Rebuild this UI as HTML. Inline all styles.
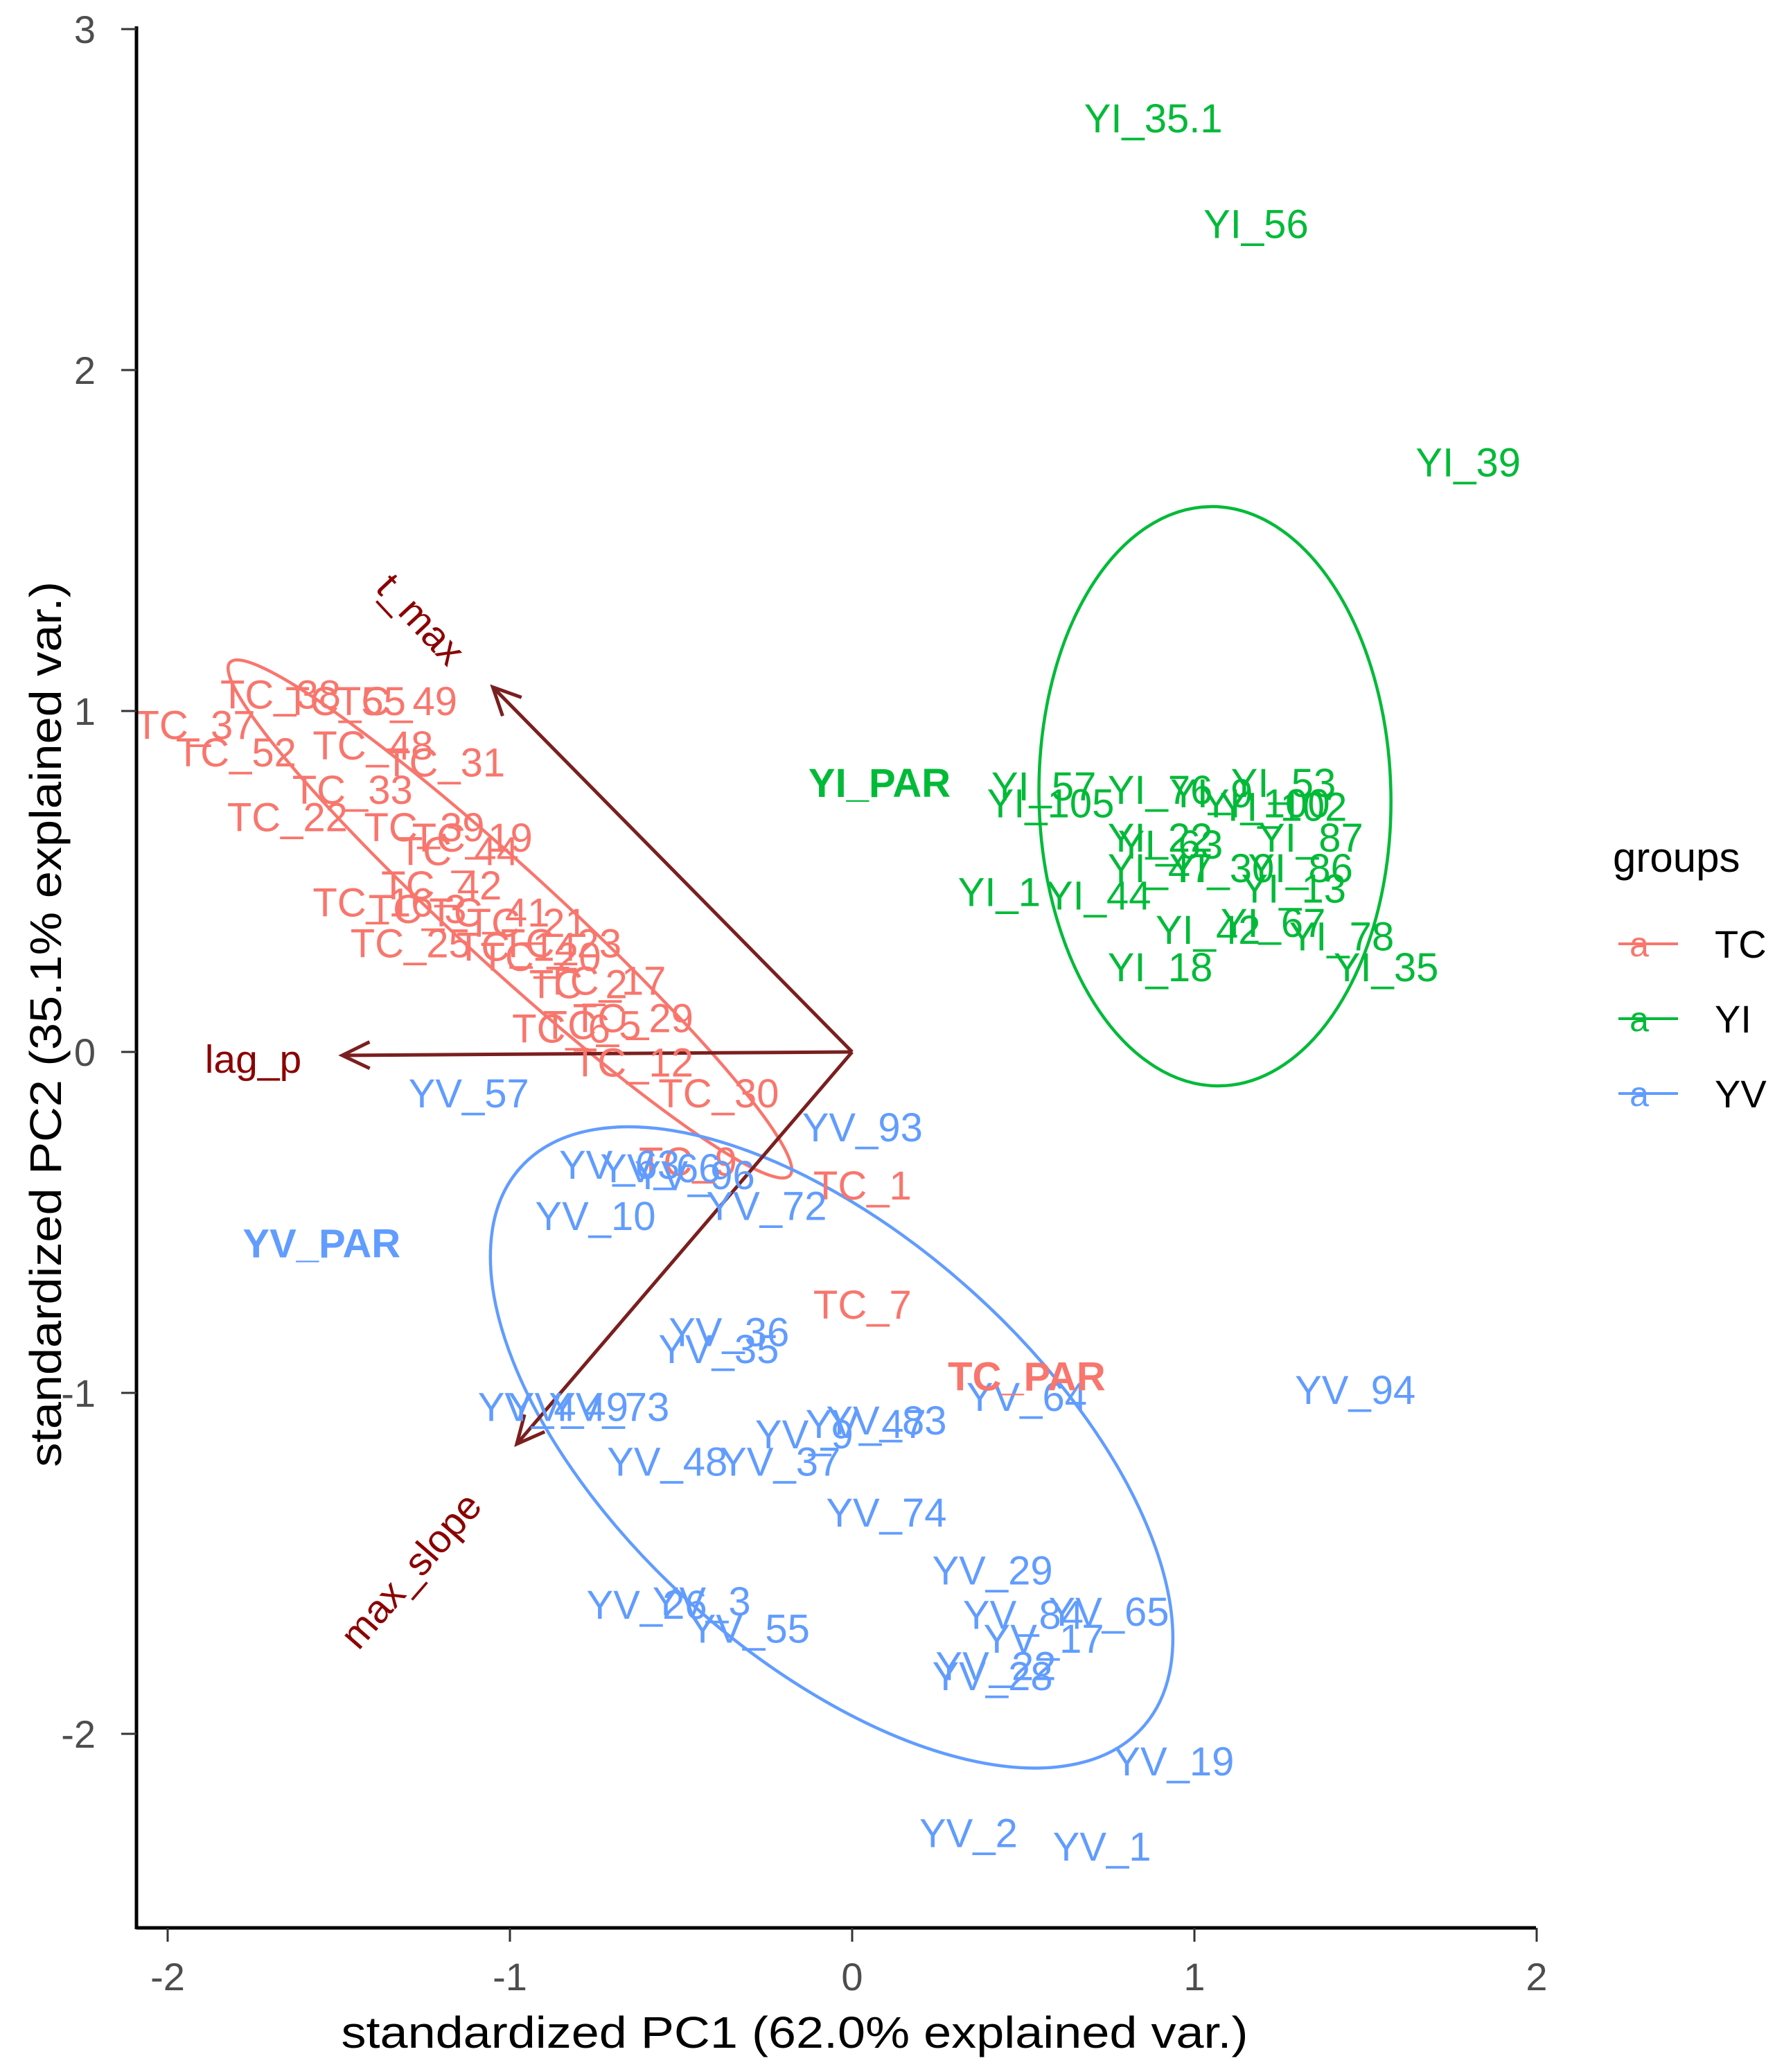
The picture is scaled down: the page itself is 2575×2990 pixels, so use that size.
<!DOCTYPE html>
<html><head><meta charset="utf-8"><style>
html,body{margin:0;padding:0;background:#fff;}
svg{display:block;font-family:"Liberation Sans",Arial,sans-serif;}
</style></head><body>
<svg id="chart" width="2575" height="2990" viewBox="0 0 2575 2990" xmlns="http://www.w3.org/2000/svg">
<g id="ellipses"></g>
<g id="arrows"></g>
<g id="labels"></g>
<g id="axes"></g>
<g id="legend"></g>
</svg>
<script>
const xTicks = [-2, -1, 0, 1, 2];
const yTicks = [-2, -1, 0, 1, 2, 3];
const groupNames = ["TC", "YI", "YV"];
const groupColors = {TC: "#F8766D", YI: "#00BA38", YV: "#619CFF"};

const tcNames = ["TC_37","TC_38","TC_55","TC_49","TC_52","TC_48","TC_31","TC_33","TC_22","TC_39","TC_19","TC_44","TC_42","TC_16","TC_3","TC_41","TC_21","TC_25","TC_14","TC_23","TC_20","TC_17","TC_2","TC_29","TC_6","TC_5","TC_12","TC_30","TC_9","TC_1","TC_7"];
const tcX = [-1.92,-1.67,-1.48,-1.33,-1.80,-1.40,-1.19,-1.46,-1.65,-1.25,-1.11,-1.15,-1.20,-1.40,-1.27,-1.06,-0.95,-1.29,-0.98,-0.85,-0.91,-0.72,-0.80,-0.64,-0.85,-0.76,-0.64,-0.39,-0.48,0.03,0.03];
const tcY = [0.96,1.05,1.03,1.03,0.88,0.90,0.85,0.77,0.69,0.66,0.63,0.59,0.49,0.44,0.42,0.41,0.38,0.32,0.31,0.32,0.28,0.21,0.20,0.10,0.07,0.08,-0.03,-0.12,-0.32,-0.39,-0.74];

const yiNames = ["YI_35.1","YI_56","YI_39","YI_53","YI_57","YI_105","YI_76","YI_9","YI_100","YI_102","YI_87","YI_22","YI_63","YI_47","YI_30","YI_86","YI_13","YI_1","YI_44","YI_42","YI_67","YI_78","YI_18","YI_35"];
const yiX = [0.88,1.18,1.80,1.26,0.56,0.58,0.90,1.05,1.21,1.26,1.34,0.90,0.93,0.90,1.08,1.31,1.29,0.43,0.72,1.04,1.23,1.43,0.90,1.56];
const yiY = [2.74,2.43,1.73,0.79,0.78,0.73,0.77,0.76,0.73,0.72,0.63,0.63,0.61,0.54,0.54,0.54,0.48,0.47,0.46,0.36,0.38,0.34,0.25,0.25];

const yvNames = ["YV_57","YV_93","YV_63","YV_66","YV_96","YV_72","YV_10","YV_36","YV_35","YV_4","YV_49","YV_73","YV_47","YV_83","YV_9","YV_64","YV_94","YV_48","YV_37","YV_74","YV_29","YV_65","YV_84","YV_17","YV_22","YV_28","YV_26","YV_3","YV_55","YV_19","YV_2","YV_1"];
const yvX = [-1.12,0.03,-0.68,-0.56,-0.46,-0.25,-0.75,-0.36,-0.39,-0.95,-0.83,-0.71,0.04,0.10,-0.14,0.51,1.47,-0.54,-0.21,0.10,0.41,0.75,0.50,0.56,0.42,0.41,-0.60,-0.44,-0.30,0.94,0.34,0.73];
const yvY = [-0.12,-0.22,-0.33,-0.34,-0.36,-0.45,-0.48,-0.82,-0.87,-1.04,-1.04,-1.04,-1.09,-1.08,-1.12,-1.01,-0.99,-1.20,-1.20,-1.35,-1.52,-1.64,-1.65,-1.72,-1.80,-1.83,-1.62,-1.61,-1.69,-2.08,-2.29,-2.33];

const parNames = ["TC_PAR","YI_PAR","YV_PAR"];
const parX = [0.51,0.08,-1.55];
const parY = [-0.95,0.79,-0.56];

const arrowNames = ["t_max","lag_p","max_slope"];
const arrowX = [-1.05,-1.49,-0.98];
const arrowY = [1.07,-0.01,-1.15];

// ellipse centres (data units)
const ellX = [-1.00, 1.06, -0.06];
const ellY = [0.39, 0.75, -1.16];

const NS = "http://www.w3.org/2000/svg";
const X = v => 1230 + 494 * v;
const Y = v => 1518 - 492 * v;
function mk(tag, attrs, parent) {
  const e = document.createElementNS(NS, tag);
  for (const k in attrs) e.setAttribute(k, attrs[k]);
  parent.appendChild(e);
  return e;
}

// ellipses (semi-axes & rotation in px, styling only)
const ellG = document.getElementById('ellipses');
const ellShape = [[548, 70, 42.5], [254, 418, -1], [604, 303, 42]];
groupNames.forEach((g, i) => {
  const [a, b, ang] = ellShape[i];
  const e = mk('ellipse', {cx: 0, cy: 0, rx: a, ry: b, fill: 'none', stroke: groupColors[g], 'stroke-width': 4.5,
    transform: `translate(${X(ellX[i])},${Y(ellY[i])}) rotate(${ang})`}, ellG);
  
  
});

// arrows
const arG = document.getElementById('arrows');
const arrowCol = "#7a1f1f";
const labelPos = [[-1.26, 1.27, 47], [-1.75, -0.02, 0], [-1.29, -1.52, -49]];
arrowNames.forEach((n, i) => {
  const x0 = X(0), y0 = Y(0), x1 = X(arrowX[i]), y1 = Y(arrowY[i]);
  const l = mk('line', {x1: x0, y1: y0, x2: x1, y2: y1, stroke: arrowCol, 'stroke-width': 5}, arG);
  
  
  const ang = Math.atan2(y1 - y0, x1 - x0), h = 44, s = 0.45;
  const p = `M${x1 - h * Math.cos(ang - s)},${y1 - h * Math.sin(ang - s)} L${x1},${y1} L${x1 - h * Math.cos(ang + s)},${y1 - h * Math.sin(ang + s)}`;
  const hd = mk('path', {d: p, fill: 'none', stroke: arrowCol, 'stroke-width': 5}, arG);
  
  
  const [lx, ly, rot] = labelPos[i];
  const t = mk('text', {x: 0, y: 0, dy: '0.35em', 'text-anchor': 'middle', 'font-size': 57, fill: '#8B0000',
    transform: `translate(${X(lx)},${Y(ly)}) rotate(${rot})`}, arG);
  t.textContent = n;
  
  
});

// sample labels
const lbG = document.getElementById('labels');
function drawLabels(names, xs, ys, col, bold) {
  names.forEach((n, i) => {
    const c = col || groupColors[n.slice(0, 2)];
    const t = mk('text', {x: X(xs[i]), y: Y(ys[i]), dy: '0.36em', 'text-anchor': 'middle', 'font-size': 58,
      fill: c, 'font-weight': bold ? 'bold' : 'normal'}, lbG);
    t.textContent = n;
    
    
  });
}
drawLabels(tcNames, tcX, tcY, groupColors.TC, false);
drawLabels(yiNames, yiX, yiY, groupColors.YI, false);
drawLabels(yvNames, yvX, yvY, groupColors.YV, false);
drawLabels(parNames, parX, parY, null, true);

// axes
const axG = document.getElementById('axes');
const xl = mk('line', {x1: 197, y1: 2782, x2: 2217, y2: 2782, stroke: '#000', 'stroke-width': 5}, axG);
 
const yl = mk('line', {x1: 197, y1: 38, x2: 197, y2: 2784, stroke: '#000', 'stroke-width': 5}, axG);
 
xTicks.forEach(v => {
  const tk = mk('line', {x1: X(v), y1: 2782, x2: X(v), y2: 2802, stroke: '#333', 'stroke-width': 3}, axG);
   
  const t = mk('text', {x: X(v), y: 2872, 'text-anchor': 'middle', 'font-size': 56, fill: '#4d4d4d'}, axG);
  t.textContent = v;
   
});
yTicks.forEach(v => {
  const tk = mk('line', {x1: 175, y1: Y(v), x2: 197, y2: Y(v), stroke: '#333', 'stroke-width': 3}, axG);
   
  const t = mk('text', {x: 138, y: Y(v), dy: '0.36em', 'text-anchor': 'end', 'font-size': 56, fill: '#4d4d4d'}, axG);
  t.textContent = v;
   
});
const xt = mk('text', {x: 1147, y: 2955, 'text-anchor': 'middle', 'font-size': 64, fill: '#000', textLength: 1309, lengthAdjust: 'spacingAndGlyphs'}, axG);
xt.textContent = 'standardized PC1 (62.0% explained var.)';
 
const yt = mk('text', {x: 0, y: 0, 'text-anchor': 'middle', 'font-size': 64, fill: '#000', textLength: 1278, lengthAdjust: 'spacingAndGlyphs', transform: 'translate(88,1478) rotate(-90)'}, axG);
yt.textContent = 'standardized PC2 (35.1% explained var.)';
 

// legend
const lgG = document.getElementById('legend');
const lt = mk('text', {x: 2328, y: 1258, 'font-size': 60, fill: '#000'}, lgG);
lt.textContent = 'groups';
 
groupNames.forEach((g, i) => {
  const cy = 1362 + i * 108;
  const ln = mk('line', {x1: 2336, y1: cy, x2: 2422, y2: cy, stroke: groupColors[g], 'stroke-width': 4}, lgG);
   
  const a = mk('text', {x: 2366, y: cy, dy: '0.36em', 'text-anchor': 'middle', 'font-size': 50, fill: groupColors[g]}, lgG);
  a.textContent = 'a';
   
  const t = mk('text', {x: 2475, y: cy, dy: '0.36em', 'font-size': 56, fill: '#000'}, lgG);
  t.textContent = g;
   
});
</script>
</body></html>
